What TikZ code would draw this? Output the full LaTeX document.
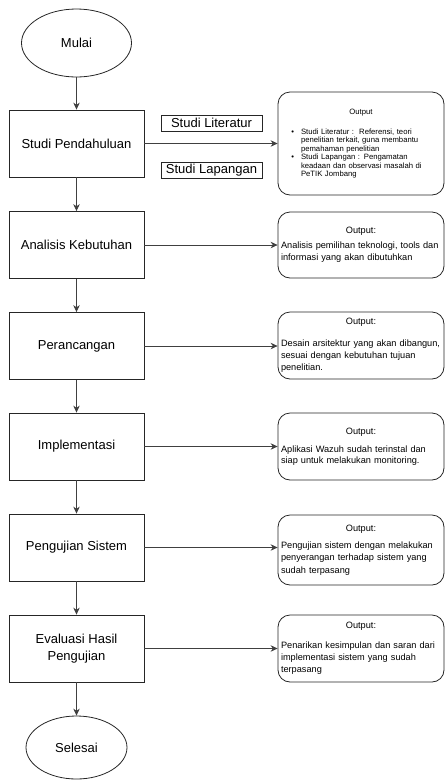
\documentclass[tikz,border=0pt]{standalone}
\usepackage{fontspec}
\setmainfont{Liberation Sans}
\usetikzlibrary{shapes.geometric,arrows.meta}

% title line of an output box, then a small gap
\newcommand{\outhead}[2][5pt]{{\centering #2\par}\vspace{#1}}
\newcommand{\bul}{\leavevmode\llap{\textbullet\hskip 7pt}}

\begin{document}
\begin{tikzpicture}[x=1pt, y=-1pt, >={Stealth[length=7pt,width=6.5pt]}]
        \tikzstyle{term} = [draw=black!85, line width=0.8pt, ellipse, inner sep=0pt, font=\fontsize{13}{15}\selectfont]
        \tikzstyle{proc} = [draw=black!85, line width=0.8pt, rectangle, minimum width=135pt, minimum height=67pt, align=center, font=\fontsize{13}{17}\selectfont]
        \tikzstyle{tag} = [draw=black!85, line width=0.8pt, rectangle, minimum width=101pt, minimum height=16pt, inner sep=0pt, font=\fontsize{13}{15}\selectfont]
        \tikzstyle{outp} = [draw=black!85, line width=0.8pt, rounded corners=12pt, text width=160pt, inner xsep=3pt, inner ysep=2pt, align=left, font=\fontsize{9.2}{12.5}\selectfont]
        \tikzstyle{flow} = [->, draw=black!75, line width=0.8pt]
        \useasboundingbox (0,0) rectangle (446,780);
        % main column
        \node[term, minimum width=110pt, minimum height=68pt] (mulai) at (76.5, 43) {Mulai};
        \node[proc] (sp) at (76.5, 143.5) {Studi Pendahuluan};
        \node[proc] (ak) at (76.5, 245) {Analisis Kebutuhan};
        \node[proc] (per) at (76.5, 346) {Perancangan};
        \node[proc] (imp) at (76.5, 446.5) {Implementasi};
        \node[proc] (uji) at (76.5, 547.5) {Pengujian Sistem};
        \node[proc] (eva) at (76.5, 648.5) {Evaluasi Hasil\\Pengujian};
        \node[term, minimum width=101pt, minimum height=63pt] (selesai) at (76.5, 747.5) {Selesai};
        % kinds of study
        \node[tag] (lit) at (211.5, 123) {Studi Literatur};
        \node[tag] (lap) at (211.5, 170.5) {Studi Lapangan};
        % outputs
        \node[outp, minimum height=103pt, font=\fontsize{7.7}{8.5}\selectfont] (o1) at (361, 143.5) {\outhead[11.5pt]{Output}
          \leftskip=20pt
          \bul Studi Literatur :\ \ Referensi, teori\\ penelitian terkait, guna membantu\\ pemahaman penelitian\par
          \bul Studi Lapangan : Pengamatan\\ keadaan dan observasi masalah di\\ PeTIK Jombang\par};
        \node[outp, minimum height=66pt] (o2) at (361, 245) {\outhead[2pt]{Output:}
          Analisis pemilihan teknologi, tools dan\\ informasi yang akan dibutuhkan};
        \node[outp, minimum height=67pt, font=\fontsize{9.2}{12}\selectfont] (o3) at (361, 345.5) {\outhead[10pt]{Output:}
          Desain arsitektur yang akan dibangun,\\ sesuai dengan kebutuhan tujuan\\ penelitian.};
        \node[outp, minimum height=67pt, font=\fontsize{9.2}{11.5}\selectfont] (o4) at (361, 446.5) {\outhead[6.5pt]{Output:}
          Aplikasi Wazuh sudah terinstal dan\\ siap untuk melakukan monitoring.};
        \node[outp, minimum height=70pt] (o5) at (361, 550) {\outhead[4.5pt]{Output:}
          Pengujian sistem dengan melakukan\\ penyerangan terhadap sistem yang\\ sudah terpasang};
        \node[outp, minimum height=67pt, font=\fontsize{9.2}{12}\selectfont] (o6) at (361, 648.5) {\outhead[8pt]{Output:}
          Penarikan kesimpulan dan saran dari\\ implementasi sistem yang sudah\\ terpasang};
        % flow down the column
        \draw[flow] (mulai) -- (sp);
        \draw[flow] (sp) -- (ak);
        \draw[flow] (ak) -- (per);
        \draw[flow] (per) -- (imp);
        \draw[flow] (imp) -- (uji);
        \draw[flow] (uji) -- (eva);
        \draw[flow] (eva) -- (selesai);
        % each step to its output
        \draw[flow] (sp) -- (sp -| o1.west);
        \draw[flow] (ak) -- (ak -| o2.west);
        \draw[flow] (per) -- (per -| o3.west);
        \draw[flow] (imp) -- (imp -| o4.west);
        \draw[flow] (uji) -- (uji -| o5.west);
        \draw[flow] (eva) -- (eva -| o6.west);
      \end{tikzpicture}
\end{document}
